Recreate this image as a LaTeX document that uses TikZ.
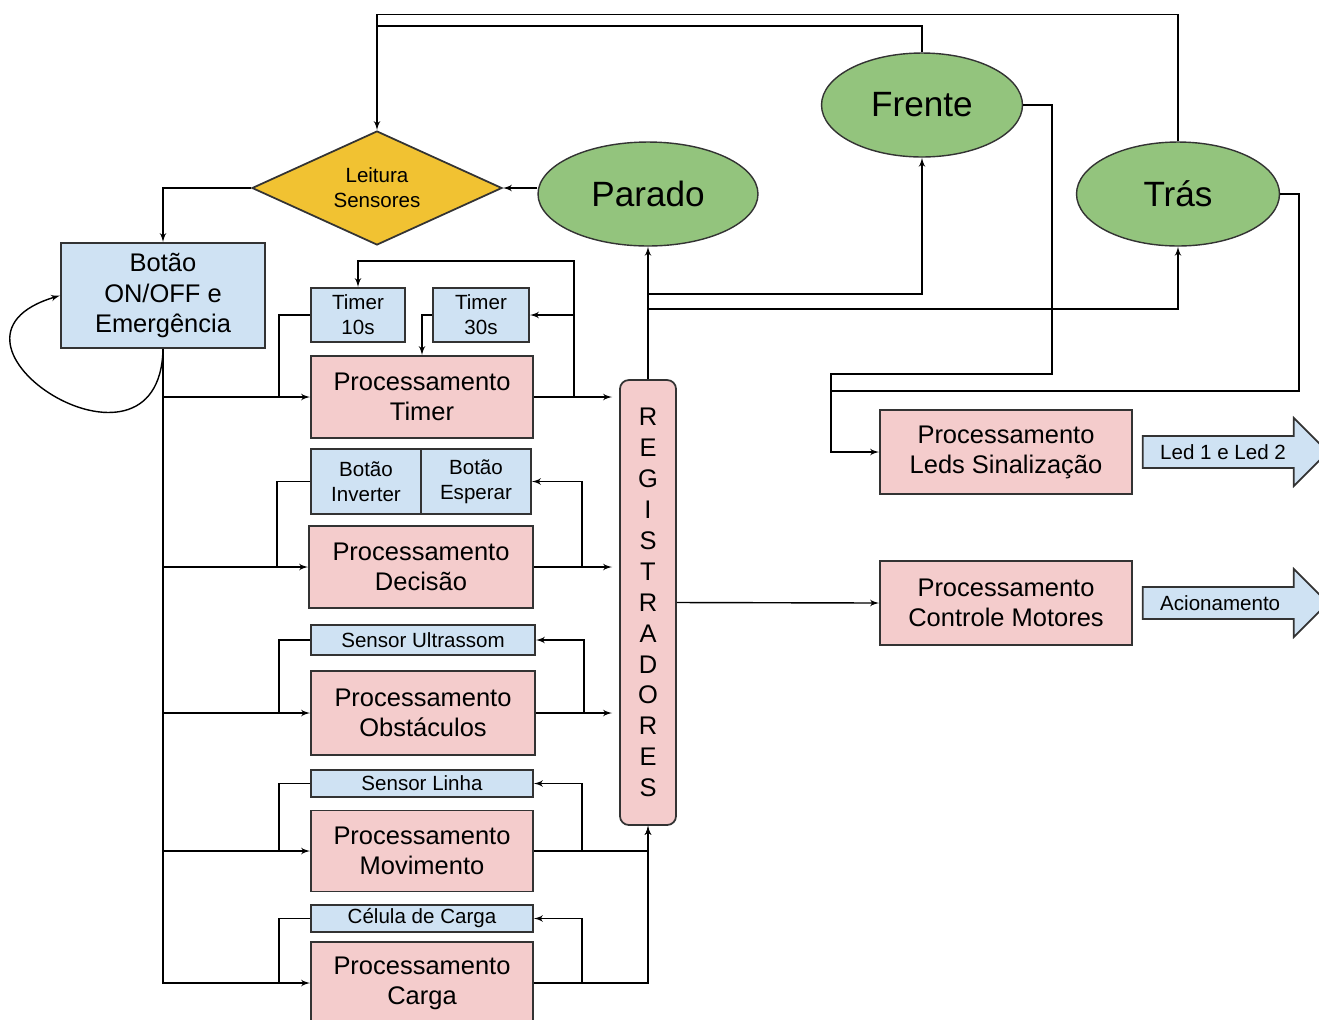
\documentclass[tikz,border=0pt]{standalone}
\usepackage{fontspec}
\setmainfont{Liberation Sans}
\usepackage{tikz}
\usetikzlibrary{shapes.geometric,arrows,positioning,calc}
\definecolor{procpink}{HTML}{F4CCCC}
\definecolor{sensblue}{HTML}{CFE2F3}
\definecolor{estadogreen}{HTML}{93C47D}
\definecolor{leituraamb}{HTML}{F1C232}
\definecolor{edgegray}{HTML}{333333}
\newcommand{\estadofont}{\fontsize{20}{24}\selectfont}
\newcommand{\procfont}{\fontsize{14.5}{17}\selectfont}
\newcommand{\botaofont}{\fontsize{14.5}{17.6}\selectfont}
\newcommand{\sensfont}{\fontsize{11.7}{14.2}\selectfont}
\tikzstyle{block}=[draw=edgegray, line width=1pt, inner sep=0pt, align=center]
\tikzstyle{proc}=[block, fill=procpink, minimum width=4.44cm, minimum height=1.64cm, font=\procfont]
\tikzstyle{sens}=[block, fill=sensblue, font=\sensfont]
\tikzstyle{estado}=[ellipse, draw=edgegray, line width=0.8pt, fill=estadogreen, minimum width=4.4cm, minimum height=2.08cm, inner sep=0pt, font=\estadofont]
\tikzstyle{arrow}=[line width=0.8pt,->,>=latex']
\tikzstyle{wire}=[line width=0.8pt]
\tikzstyle{outarrow}=[draw=edgegray, line width=1pt, fill=sensblue, line join=miter]

\begin{document}
\begin{tikzpicture}[x=0.02cm,y=-0.02cm,>=latex']
\useasboundingbox (0,0) rectangle (1319,1019);

\node (leitura) [diamond, draw=edgegray, line width=1pt, fill=leituraamb, aspect=2.2, minimum width=5cm, minimum height=2.28cm, inner sep=0pt, align=center, font=\sensfont] at (377,188) {Leitura\\Sensores};
\node (parado) [estado] at (648,194) {Parado};
\node (frente) [estado, minimum width=4.02cm] at (922,105) {Frente};
\node (tras) [estado, minimum width=4.06cm] at (1178,194) {Trás};
\node (botao) [block, fill=sensblue, minimum width=4.08cm, minimum height=2.1cm, font=\botaofont] at (163,295.5) {Botão\\ON/OFF e\\Emergência};

\node (t10) [sens, minimum width=1.88cm, minimum height=1.08cm] at (358,315) {Timer\\10s};
\node (t30) [sens, minimum width=1.92cm, minimum height=1.08cm] at (481,315) {Timer\\30s};
\node (ptimer) [proc] at (422,397) {Processamento\\Timer};
\node (binv) [sens, minimum width=2.2cm, minimum height=1.3cm] at (366,481.5) {Botão\\Inverter};
\node (besp) [sens, minimum width=2.2cm, minimum height=1.3cm] at (476,481.5) {Botão\\Esperar};
\node (pdec) [proc, minimum width=4.48cm] at (421,567) {Processamento\\Decisão};
\node (ultra) [sens, minimum width=4.48cm, minimum height=0.6cm] at (423,640) {Sensor Ultrassom};
\node (pobs) [proc, minimum width=4.48cm, minimum height=1.68cm] at (423,713) {Processamento\\Obstáculos};
\node (linha) [sens, minimum width=4.44cm, minimum height=0.54cm] at (422,783.5) {Sensor Linha};
\node (pmov) [proc, minimum height=1.62cm] at (422,851) {Processamento\\Movimento};
\node (celula) [sens, minimum width=4.44cm, minimum height=0.54cm] at (422,918.5) {Célula de Carga};
\node (pcarga) [proc] at (422,983) {Processamento\\Carga};

\node (reg) [block, fill=procpink, rounded corners=5pt, minimum width=1.12cm, minimum height=8.9cm, font=\botaofont] at (648,602.5) {R\\E\\G\\I\\S\\T\\R\\A\\D\\O\\R\\E\\S};
\node (pled) [proc, minimum width=5.04cm, minimum height=1.68cm] at (1006,452) {Processamento\\Leds Sinalização};
\node (pmot) [proc, minimum width=5.04cm, minimum height=1.68cm] at (1006,603) {Processamento\\Controle Motores};

\draw[arrow] (tras.north) -- ++(0,-127) -| (leitura.north);
\draw[wire] (frente.north) |- ([yshift=2.08cm]leitura.north);
\draw[arrow] (leitura.east -| parado.west) -- (leitura.east);
\draw[arrow] (leitura.west) -| (botao.north);
\draw[arrow] (botao.south) .. controls (160,500) and (-90,340) .. (botao.west);

\draw[arrow] (botao.south) |- (pcarga.west);
\foreach \p in {ptimer,pdec,pobs,pmov}
  \draw[arrow] (botao.south |- \p.west) -- (\p.west);
\foreach \s/\p in {t10/ptimer,binv/pdec,ultra/pobs,linha/pmov,celula/pcarga}
  \draw[wire] (\s.west) -| ([xshift=-0.62cm]\p.west);

\foreach \p in {ptimer,pdec,pobs}
  \draw[arrow, shorten >=4pt] (\p.east) -- (\p.east -| reg.west);
\draw[arrow] (pmov.east) -| (reg.south);
\draw[arrow] (pcarga.east) -| (reg.south);

\draw[arrow] ([xshift=0.8cm]ptimer.east) |- (t30.east);
\draw[arrow] ([xshift=0.8cm]ptimer.east) -- ++(0,-136) -| (t10.north);
\draw[arrow] (t30.west) -| (ptimer.north);
\foreach \p/\s in {pdec/besp,pobs/ultra,pmov/linha,pcarga/celula}
  \draw[arrow] ([xshift=0.96cm]\p.east) |- (\s.east);

\draw[arrow] (reg.north) -- (parado.south);
\draw[arrow] ([yshift=1.7cm]reg.north) -| (frente.south);
\draw[arrow] ([yshift=1.4cm]reg.north) -| (tras.south);
\draw[arrow] (reg.east) -- (pmot.west);
\draw[arrow] (frente.east) -- ++(29,0) -- ++(0,269) -| ([xshift=-0.96cm]pled.west) -- (pled.west);
\draw[wire] (tras.east) -- ++(19,0) |- ([xshift=-0.96cm,yshift=1.22cm]pled.west);

\foreach \p/\t/\n in {pled/Led 1 e Led 2/leds,pmot/Acionamento/acion}{
  \draw[outarrow] ([xshift=0.2cm,yshift=0.32cm]\p.east) -- ++(151,0) -- ++(0,-18) -- ++(34,34) -- ++(-34,34) -- ++(0,-18) -- ++(-151,0) -- cycle;
  \node (\n) [anchor=west, inner sep=0pt, font=\sensfont] at ([xshift=0.54cm]\p.east) {\t};
}

\end{tikzpicture}
\end{document}
